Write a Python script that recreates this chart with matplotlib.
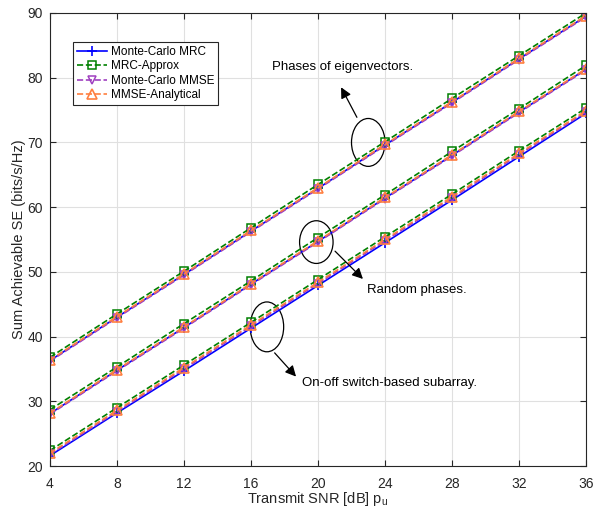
import matplotlib
matplotlib.use("Agg")
import matplotlib.pyplot as plt
from matplotlib.patches import Ellipse

plt.rcParams['font.family'] = ['Liberation Sans', 'DejaVu Sans']

snr = [4, 8, 12, 16, 20, 24, 28, 32, 36]

# Phases of eigenvectors
eig_mc_mrc = [36.3, 43.0, 49.6, 56.3, 62.9, 69.6, 76.2, 82.9, 89.5]
eig_mrc_approx = [36.8, 43.5, 50.1, 56.8, 63.5, 70.1, 76.8, 83.4, 90.0]
eig_mc_mmse = [36.2, 42.9, 49.5, 56.2, 62.8, 69.5, 76.1, 82.8, 89.4]
eig_mmse_an = [36.4, 43.1, 49.7, 56.4, 63.0, 69.7, 76.3, 83.0, 89.6]

# Random phases
rnd_mc_mrc = [28.1, 34.8, 41.4, 48.1, 54.7, 61.4, 68.0, 74.7, 81.3]
rnd_mrc_approx = [28.7, 35.3, 42.0, 48.6, 55.3, 61.9, 68.6, 75.2, 81.9]
rnd_mc_mmse = [28.0, 34.7, 41.3, 48.0, 54.6, 61.3, 67.9, 74.6, 81.2]
rnd_mmse_an = [28.2, 34.9, 41.5, 48.2, 54.8, 61.5, 68.1, 74.8, 81.4]

# On-off switch-based subarray
sw_mc_mrc = [21.6, 28.2, 34.7, 41.3, 47.9, 54.5, 61.1, 67.8, 74.5]
sw_mrc_approx = [22.4, 29.0, 35.6, 42.2, 48.8, 55.4, 62.0, 68.7, 75.3]
sw_mc_mmse = [21.8, 28.4, 35.0, 41.6, 48.2, 54.8, 61.4, 68.1, 74.7]
sw_mmse_an = [22.0, 28.6, 35.2, 41.8, 48.4, 55.0, 61.6, 68.3, 74.9]

labels = ['Monte-Carlo MRC', 'MRC-Approx', 'Monte-Carlo MMSE', 'MMSE-Analytical']

fig = plt.figure(figsize=(5.94, 5.11), dpi=100)
ax = fig.add_axes([50 / 594, 1 - 466 / 511, 536 / 594, 453 / 511])

c_blue = '#0000ff'
c_green = '#008000'
c_purple = '#a040c0'
c_orange = '#ff7f40'

groups = [
    (eig_mc_mrc, eig_mrc_approx, eig_mc_mmse, eig_mmse_an),
    (rnd_mc_mrc, rnd_mrc_approx, rnd_mc_mmse, rnd_mmse_an),
    (sw_mc_mrc, sw_mrc_approx, sw_mc_mmse, sw_mmse_an),
]

for gi, (mrc, appr, mmse, an) in enumerate(groups):
    l1, = ax.plot(snr, mrc, color=c_blue, ls='-', lw=1.2, marker='+', ms=7, mew=1.2)
    l2, = ax.plot(snr, appr, color=c_green, ls='--', lw=1.2, marker='s', ms=5.5,
                  mfc='none', mew=1.1)
    l3, = ax.plot(snr, mmse, color=c_purple, ls='--', lw=1.2, marker='v', ms=6,
                  mfc='none', mew=1.1)
    l4, = ax.plot(snr, an, color=c_orange, ls='--', lw=1.2, marker='^', ms=7,
                  mfc='none', mew=1.2)
    if gi == 0:
        handles = [l1, l2, l3, l4]

leg = ax.legend(handles, labels, loc='upper left', bbox_to_anchor=(0.043, 0.935),
                fontsize=8.5, fancybox=False, framealpha=1, edgecolor='#262626',
                borderpad=0.3, labelspacing=0.2, handlelength=2.6, handletextpad=0.3,
                borderaxespad=0)
leg.get_frame().set_linewidth(0.8)

ax.set_xlim(4, 36)
ax.set_ylim(20, 90)
ax.set_xticks(snr)
ax.set_yticks(range(20, 91, 10))
ax.grid(True, color='#e0e0e0', lw=0.8)
ax.set_axisbelow(True)
ax.tick_params(direction='in', top=True, right=True, labelsize=10, colors='#262626',
               length=4)
ax.tick_params(axis='x', pad=8)
ax.tick_params(axis='y', pad=5)
for s in ax.spines.values():
    s.set_color('#262626')
    s.set_linewidth(0.8)

ax.set_xlabel('Transmit SNR [dB] p$_\\mathregular{u}$', fontsize=10.5, color='#262626',
              labelpad=-1)
ax.set_ylabel('Sum Achievable SE (bits/s/Hz)', fontsize=10.5, color='#262626',
              labelpad=1)

# annotations
ax.add_patch(Ellipse((23.0, 70.0), 2.0, 7.4, fill=False, ec='black', lw=0.9))
ax.annotate('', xy=(21.3, 78.9), xytext=(22.4, 73.5),
            arrowprops=dict(arrowstyle='-|>', color='black', lw=0.9, mutation_scale=16))
ax.text(17.25, 81.7, 'Phases of eigenvectors.', fontsize=9.5, va='center', ha='left')

ax.add_patch(Ellipse((19.9, 54.6), 2.0, 6.6, fill=False, ec='black', lw=0.9))
ax.annotate('', xy=(22.8, 48.6), xytext=(20.9, 53.5),
            arrowprops=dict(arrowstyle='-|>', color='black', lw=0.9, mutation_scale=16))
ax.text(22.9, 47.2, 'Random phases.', fontsize=9.5, va='center', ha='left')

ax.add_patch(Ellipse((16.95, 41.5), 2.0, 7.7, fill=False, ec='black', lw=0.9))
ax.annotate('', xy=(18.8, 33.5), xytext=(17.3, 37.8),
            arrowprops=dict(arrowstyle='-|>', color='black', lw=0.9, mutation_scale=16))
ax.text(19.05, 32.8, 'On-off switch-based subarray.', fontsize=9.5, va='center', ha='left')

fig.savefig('out.png', dpi=100)
